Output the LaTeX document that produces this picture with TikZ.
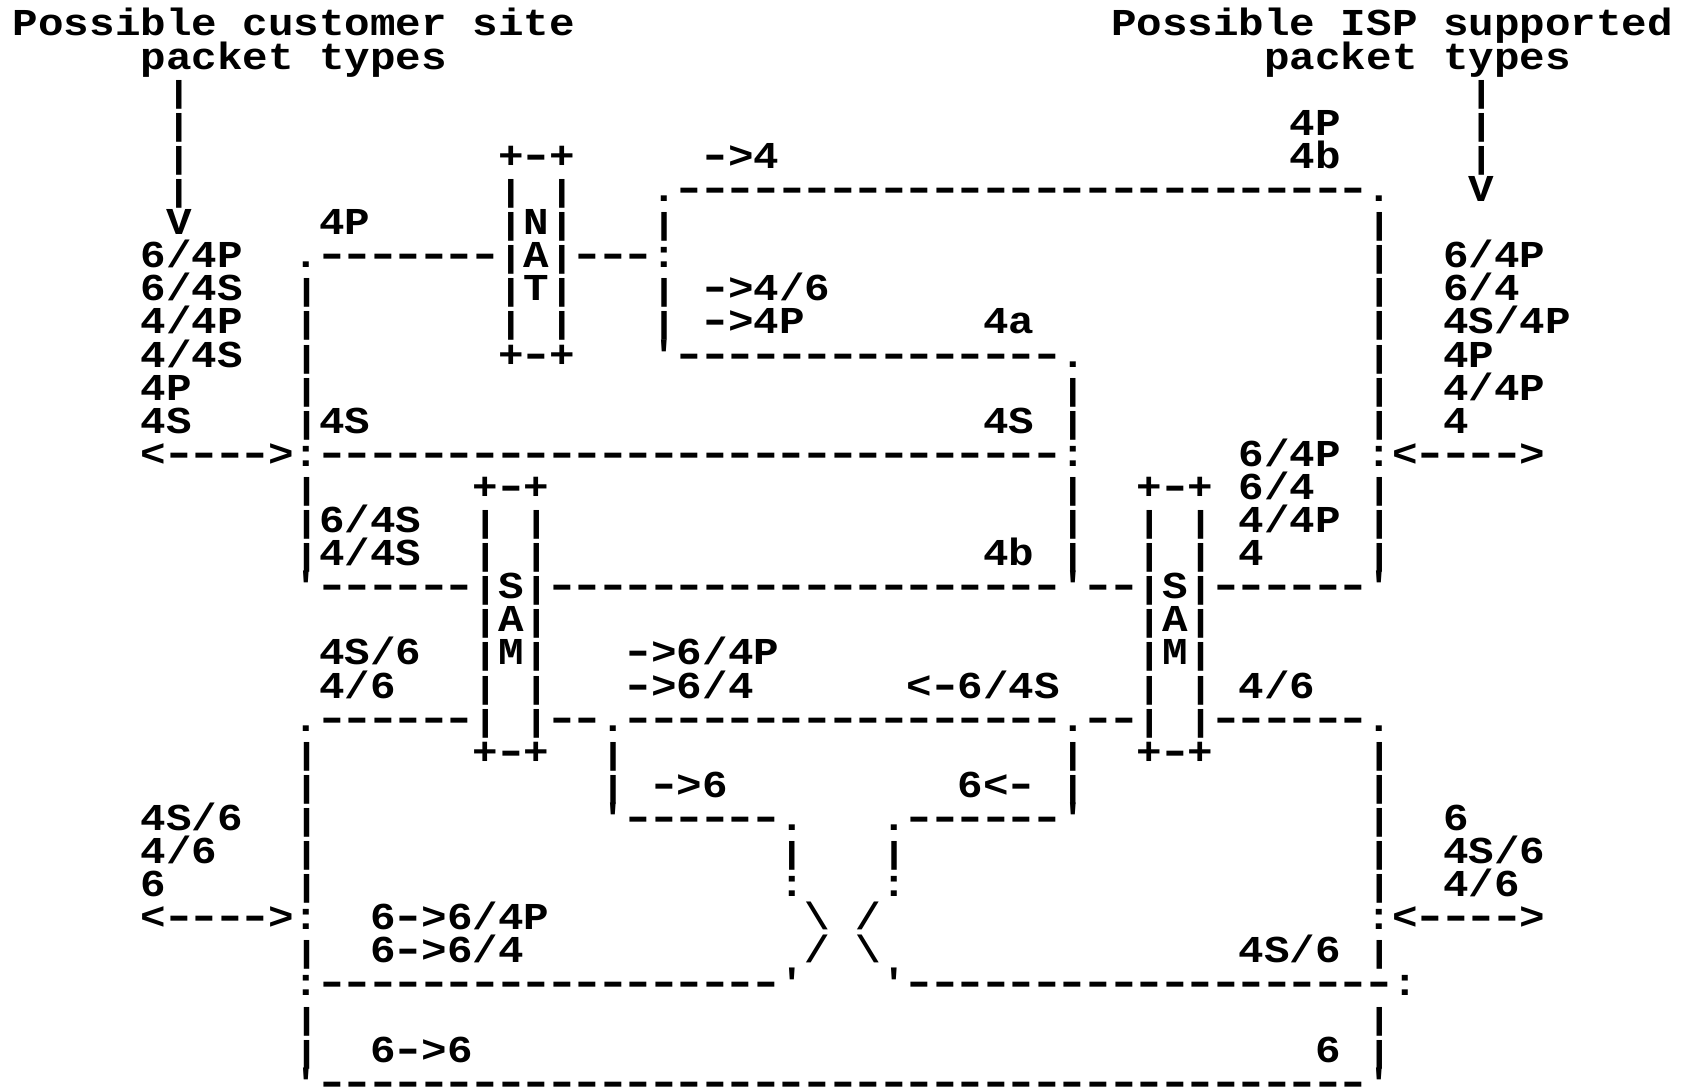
\documentclass[tikz,border=0pt]{standalone}
\usepackage{graphicx}
\usepackage{fontspec}
\setmonofont{Liberation Mono}[FakeStretch=1.12]
% pipe: shortened so stacked pipes show small gaps; hyphen: widened within its cell
\newcommand\p{\scalebox{1}[0.8]{|}}
\newcommand\h{\makebox[25.54pt][c]{\scalebox{1.4}[1.1]{-}}}
\ExplSyntaxOn
\cs_new:Npn \dsh #1 {\prg_replicate:nn{#1}{\h}}
\ExplSyntaxOff
\tikzset{asc/.style={anchor=base west, inner sep=0pt, outer sep=0pt, text=black,
  font=\ttfamily\bfseries\fontsize{38}{40}\selectfont}}
\newcommand\seg[3]{\node[asc] (r#1c#2) at (#2,#1) {#3};}
\begin{document}
\begin{tikzpicture}[x=25.54pt,y=-33.1pt]
\fill[white] (-12.9pt,36pt) rectangle (1675.1pt,-1055pt);
\useasboundingbox (-12.9pt,36pt) rectangle (1675.1pt,-1055pt);
% rows 0-1: titles
\seg{0}{0}{Possible}\seg{0}{9}{customer}\seg{0}{18}{site}
\seg{0}{43}{Possible}\seg{0}{52}{ISP}\seg{0}{56}{supported}
\seg{1}{5}{packet}\seg{1}{12}{types}\seg{1}{49}{packet}\seg{1}{56}{types}
% rows 2-6
\seg{2}{6}{\p}\seg{2}{57}{\p}
\seg{3}{6}{\p}\seg{3}{50}{4P}\seg{3}{57}{\p}
\seg{4}{6}{\p}\seg{4}{19}{+\h+}\seg{4}{27}{\h>4}\seg{4}{50}{4b}\seg{4}{57}{\p}
\seg{5}{6}{\p}\seg{5}{19}{\p}\seg{5}{21}{\p}\seg{5}{25}{.\dsh{27}.}\seg{5}{57}{V}
\seg{6}{6}{V}\seg{6}{12}{4P}\seg{6}{19}{\p N\p}\seg{6}{25}{\p}\seg{6}{53}{\p}
% rows 7-12
\seg{7}{5}{6/4P}\seg{7}{11}{.\dsh{7}\p A\p\dsh{3}:}\seg{7}{53}{\p}\seg{7}{56}{6/4P}
\seg{8}{5}{6/4S}\seg{8}{11}{\p}\seg{8}{19}{\p T\p}\seg{8}{25}{\p}\seg{8}{27}{\h>4/6}\seg{8}{53}{\p}\seg{8}{56}{6/4}
\seg{9}{5}{4/4P}\seg{9}{11}{\p}\seg{9}{19}{\p}\seg{9}{21}{\p}\seg{9}{25}{\p}\seg{9}{27}{\h>4P}\seg{9}{38}{4a}\seg{9}{53}{\p}\seg{9}{56}{4S/4P}
\seg{10}{5}{4/4S}\seg{10}{11}{\p}\seg{10}{19}{+\h+}\seg{10}{25}{'\dsh{15}.}\seg{10}{53}{\p}\seg{10}{56}{4P}
\seg{11}{5}{4P}\seg{11}{11}{\p}\seg{11}{41}{\p}\seg{11}{53}{\p}\seg{11}{56}{4/4P}
\seg{12}{5}{4S}\seg{12}{11}{\p 4S}\seg{12}{38}{4S}\seg{12}{41}{\p}\seg{12}{53}{\p}\seg{12}{56}{4}
% row 13
\seg{13}{5}{<\dsh{4}>:\dsh{29}:}\seg{13}{48}{6/4P}\seg{13}{53}{:<\dsh{4}>}
% rows 14-20
\seg{14}{11}{\p}\seg{14}{18}{+\h+}\seg{14}{41}{\p}\seg{14}{44}{+\h+}\seg{14}{48}{6/4}\seg{14}{53}{\p}
\seg{15}{11}{\p 6/4S}\seg{15}{18}{\p}\seg{15}{20}{\p}\seg{15}{41}{\p}\seg{15}{44}{\p}\seg{15}{46}{\p}\seg{15}{48}{4/4P}\seg{15}{53}{\p}
\seg{16}{11}{\p 4/4S}\seg{16}{18}{\p}\seg{16}{20}{\p}\seg{16}{38}{4b}\seg{16}{41}{\p}\seg{16}{44}{\p}\seg{16}{46}{\p}\seg{16}{48}{4}\seg{16}{53}{\p}
\seg{17}{11}{'\dsh{6}\p S\p\dsh{20}'\dsh{2}\p S\p\dsh{6}'}
\seg{18}{18}{\p A\p}\seg{18}{44}{\p A\p}
\seg{19}{12}{4S/6}\seg{19}{18}{\p M\p}\seg{19}{24}{\h>6/4P}\seg{19}{44}{\p M\p}
\seg{20}{12}{4/6}\seg{20}{18}{\p}\seg{20}{20}{\p}\seg{20}{24}{\h>6/4}\seg{20}{35}{<\h6/4S}\seg{20}{44}{\p}\seg{20}{46}{\p}\seg{20}{48}{4/6}
% rows 21-26
\seg{21}{11}{.\dsh{6}\p}\seg{21}{20}{\p\dsh{2}.\dsh{17}.\dsh{2}\p}\seg{21}{46}{\p\dsh{6}.}
\seg{22}{11}{\p}\seg{22}{18}{+\h+}\seg{22}{23}{\p}\seg{22}{41}{\p}\seg{22}{44}{+\h+}\seg{22}{53}{\p}
\seg{23}{11}{\p}\seg{23}{23}{\p}\seg{23}{25}{\h>6}\seg{23}{37}{6<\h}\seg{23}{41}{\p}\seg{23}{53}{\p}
\seg{24}{5}{4S/6}\seg{24}{11}{\p}\seg{24}{23}{'\dsh{6}.}\seg{24}{34}{.\dsh{6}'}\seg{24}{53}{\p}\seg{24}{56}{6}
\seg{25}{5}{4/6}\seg{25}{11}{\p}\seg{25}{30}{\p}\seg{25}{34}{\p}\seg{25}{53}{\p}\seg{25}{56}{4S/6}
\seg{26}{5}{6}\seg{26}{11}{\p}\seg{26}{30}{:}\seg{26}{34}{:}\seg{26}{53}{\p}\seg{26}{56}{4/6}
% rows 27-32
\seg{27}{5}{<\dsh{4}>:}\seg{27}{14}{6\h>6/4P}\seg{27}{31}{\textbackslash}\seg{27}{33}{/}\seg{27}{53}{:<\dsh{4}>}
\seg{28}{11}{\p}\seg{28}{14}{6\h>6/4}\seg{28}{31}{/}\seg{28}{33}{\textbackslash}\seg{28}{48}{4S/6}\seg{28}{53}{\p}
\seg{29}{11}{:\dsh{18}'}\seg{29}{34}{'\dsh{19}:}
\seg{30}{11}{\p}\seg{30}{53}{\p}
\seg{31}{11}{\p}\seg{31}{14}{6\h>6}\seg{31}{51}{6}\seg{31}{53}{\p}
\seg{32}{11}{'\dsh{41}'}
\end{tikzpicture}
\end{document}
